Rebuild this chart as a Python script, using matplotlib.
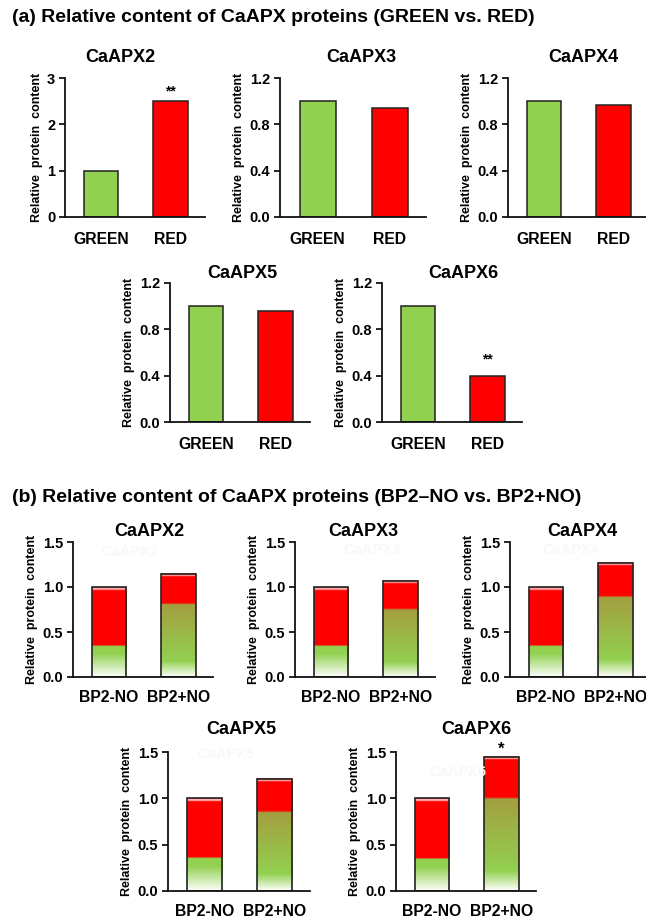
import numpy as np
import matplotlib
matplotlib.use("Agg")
import matplotlib.pyplot as plt

plt.rcParams['font.family'] = ['Liberation Sans', 'DejaVu Sans']
plt.rcParams['font.weight'] = 'bold'

# ---------------- data ----------------
groups_a = ["GREEN", "RED"]
genes_a = ["CaAPX2", "CaAPX3", "CaAPX4", "CaAPX5", "CaAPX6"]
green_a = [1.0, 1.0, 1.0, 1.0, 1.0]
red_a = [2.5, 0.945, 0.965, 0.96, 0.40]
ymax_a = [3, 1.2, 1.2, 1.2, 1.2]
yticks_a = [[0, 1, 2, 3], [0.0, 0.4, 0.8, 1.2], [0.0, 0.4, 0.8, 1.2],
            [0.0, 0.4, 0.8, 1.2], [0.0, 0.4, 0.8, 1.2]]
ytick_labels_a = [["0", "1", "2", "3"]] + [["0.0", "0.4", "0.8", "1.2"]] * 4
sig_a = ["**", "", "", "", "**"]
sig_a_y = [2.72, None, None, None, 0.54]

groups_b = ["BP2-NO", "BP2+NO"]
genes_b = ["CaAPX2", "CaAPX3", "CaAPX4", "CaAPX5", "CaAPX6"]
total_minus = [1.0, 1.0, 1.0, 1.0, 1.0]
total_plus = [1.15, 1.07, 1.27, 1.21, 1.45]
green_minus = [0.35, 0.35, 0.35, 0.36, 0.35]
green_plus = [0.81, 0.75, 0.89, 0.85, 1.0]
yticks_b = [0.0, 0.5, 1.0, 1.5]
ytick_labels_b = ["0.0", "0.5", "1.0", "1.5"]
sig_b = ["", "", "", "", "*"]
sig_b_y = [None, None, None, None, 1.53]

# ---------------- layout (pixels) ----------------
W, H = 646, 917
fig = plt.figure(figsize=(W / 100, H / 100), dpi=100)


def add_ax(left, top, bottom, width=140):
    return fig.add_axes([left / W, 1 - bottom / H, width / W, (bottom - top) / H])


pos_a = [(65, 78, 217, 140), (280, 78, 217, 146), (508, 78, 217, 140),
         (170, 283, 422, 140), (382, 283, 422, 140)]
title_a_x = [120, 361, 583, 242, 463]
title_a_y = [57, 57, 57, 273, 273]

pos_b = [(73, 542, 677, 140), (295, 542, 677, 140), (510, 542, 677, 140),
         (168, 752, 891, 142), (396, 752, 891, 140)]
title_b_x = [149, 363, 582, 241, 476]
title_b_y = [532, 532, 532, 730, 730]
ghost_b = [(130, 552), (372, 550), (571, 550), (226, 754), (458, 772)]

GREEN = np.array([0.573, 0.816, 0.314])
OLIVE = np.array([0.64, 0.62, 0.25])
RED = np.array([1.0, 0.0, 0.0])
WHITE = np.array([1.0, 1.0, 1.0])
PINK = np.array([1.0, 0.82, 0.82])
EDGE = '#222222'


def style_axes(ax, ymax, yt, ytl, xlabels, xpad):
    ax.set_xlim(-0.52, 1.5)
    ax.set_ylim(0, ymax)
    for s in ['top', 'right']:
        ax.spines[s].set_visible(False)
    for s in ['left', 'bottom']:
        ax.spines[s].set_linewidth(1.3)
        ax.spines[s].set_color('#111111')
    ax.set_yticks(yt)
    ax.set_yticklabels(ytl, fontsize=10.5, fontweight='bold')
    ax.set_xticks([0, 1])
    ax.set_xticklabels(xlabels, fontsize=11.3, fontweight='bold')
    ax.tick_params(axis='x', length=0, pad=xpad)
    ax.tick_params(axis='y', length=4, width=1.2, direction='out', pad=3)
    ax.set_ylabel("Relative  protein  content", fontsize=9.0, fontweight='bold', labelpad=3)


def gradient_column(total, g, plus, n=400):
    ys = (np.arange(n) + 0.5) / n * total
    cols = np.zeros((n, 3))
    for i, y in enumerate(ys):
        if y < g:
            t = y / g
            if plus:
                if t < 0.22:
                    s = t / 0.22
                    c = WHITE * (1 - s) + GREEN * s
                else:
                    s = (t - 0.22) / 0.78
                    c = GREEN * (1 - s) + OLIVE * s
            else:
                s = min(1.0, t / 0.75)
                c = WHITE * (1 - s) + GREEN * s
        else:
            c = RED.copy()
            d = total - y
            w = max(0.0, 1 - abs(d - 0.02) / 0.022)
            c = c * (1 - w) + PINK * w
        dd = y - g
        if abs(dd) < 0.012:
            bot_col = OLIVE if plus else GREEN
            s = (dd + 0.012) / 0.024
            c = bot_col * (1 - s) + RED * s
        cols[i] = c
    return cols[:, None, :]


# ---------------- panel (a) ----------------
fig.text(12 / W, 1 - 18 / H, "(a) Relative content of CaAPX proteins (GREEN vs. RED)",
         fontsize=14, fontweight='bold', ha='left', va='center')

for i, gene in enumerate(genes_a):
    l, t, b, w = pos_a[i]
    ax = add_ax(l, t, b, w)
    ax.bar([0, 1], [green_a[i], red_a[i]], width=0.5,
           color=['#92d050', '#ff0000'], edgecolor=EDGE, linewidth=1.1, zorder=2)
    style_axes(ax, ymax_a[i], yticks_a[i], ytick_labels_a[i], groups_a, 11)
    if sig_a[i]:
        ax.text(1, sig_a_y[i], sig_a[i], ha='center', va='center', fontsize=10, fontweight='bold')
    fig.text(title_a_x[i] / W, 1 - title_a_y[i] / H, gene, ha='center', va='center',
             fontsize=13, fontweight='bold')

# ---------------- panel (b) ----------------
fig.text(12 / W, 1 - 497 / H, "(b) Relative content of CaAPX proteins (BP2\u2013NO vs. BP2+NO)",
         fontsize=14, fontweight='bold', ha='left', va='center')

for i, gene in enumerate(genes_b):
    l, t, b, w = pos_b[i]
    ax = add_ax(l, t, b, w)
    totals = [total_minus[i], total_plus[i]]
    greens = [green_minus[i], green_plus[i]]
    for j in range(2):
        img = gradient_column(totals[j], greens[j], plus=(j == 1))
        ax.imshow(img, extent=[j - 0.25, j + 0.25, 0, totals[j]], origin='lower',
                  aspect='auto', interpolation='nearest', zorder=1)
    ax.bar([0, 1], totals, width=0.5, fill=False, edgecolor=EDGE, linewidth=1.2, zorder=2)
    style_axes(ax, 1.5, yticks_b, ytick_labels_b, groups_b, 9)
    ax.set_aspect('auto')
    if sig_b[i]:
        ax.text(1, sig_b_y[i], sig_b[i], ha='center', va='center', fontsize=12, fontweight='bold')
    fig.text(title_b_x[i] / W, 1 - title_b_y[i] / H, gene, ha='center', va='center',
             fontsize=13, fontweight='bold')
    gx, gy = ghost_b[i]
    fig.text(gx / W, 1 - gy / H, gene, ha='center', va='center', fontsize=10.5,
             fontweight='bold', color='#f8f8f8', zorder=0)

fig.savefig("out.png", dpi=100)
